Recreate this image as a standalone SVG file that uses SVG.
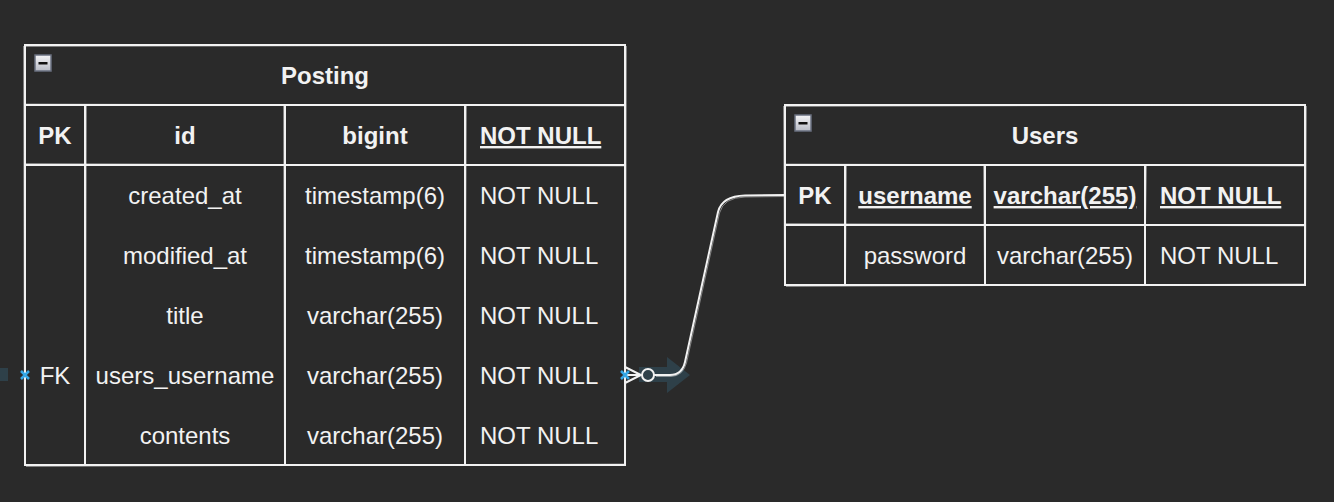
<svg xmlns="http://www.w3.org/2000/svg" width="1334" height="502" viewBox="0 0 1334 502">
<defs>
<linearGradient id="btn" x1="0" y1="0" x2="0" y2="1">
<stop offset="0" stop-color="#f4f4f6"/><stop offset="1" stop-color="#b8bcc6"/>
</linearGradient>
<style>
.bg{fill:#2a2a2a}
.box{fill:#2a2a2a;stroke:#f2f2f2;stroke-width:2}
.ln{stroke:#f2f2f2;stroke-width:2;fill:none}
.sk{stroke:#f2f2f2;stroke-width:1;fill:none;opacity:0.45}
text{font-family:"Liberation Sans",Arial,Helvetica,sans-serif;font-size:24px;fill:#f2f2f2}
.b{font-weight:bold}
.c{text-anchor:middle}
.u{text-decoration:underline}
.blue{stroke:#36a7e6;stroke-width:2.5;fill:none}
.hover{fill:#2f434d;opacity:0.9}
</style>
</defs>
<rect class="bg" x="0" y="0" width="1334" height="502"/>

<g id="posting">
<rect class="box" x="25" y="45" width="600" height="420"/>
<path class="sk" d="M26 46.5 L624 45.2 M24 104 L626 106 M26 163.5 L624 166 M23.5 46 L24.5 464 M626.5 46 L625.5 464"/>
<path class="ln" d="M25 105 H625 M25 165 H625 M85 105 V465 M285 105 V465 M465 105 V465"/>
<path class="sk" d="M86.5 106 L85.5 464 M283.5 106 L284.5 464 M466.5 106 L464.5 464 M26 466.5 L624 464"/>
<rect x="35" y="55" width="16" height="16" fill="url(#btn)" stroke="#6a7080" stroke-width="1.5"/>
<rect x="38.5" y="62" width="9" height="2.5" fill="#111"/>
<text class="b c" x="325" y="84">Posting</text>
<text class="b c" x="55" y="144">PK</text>
<text class="b c" x="185" y="144">id</text>
<text class="b c" x="375" y="144">bigint</text>
<text class="b u" x="480" y="144">NOT NULL</text>
<text class="c" x="185" y="204">created_at</text>
<text class="c" x="375" y="204">timestamp(6)</text>
<text x="480" y="204">NOT NULL</text>
<text class="c" x="185" y="264">modified_at</text>
<text class="c" x="375" y="264">timestamp(6)</text>
<text x="480" y="264">NOT NULL</text>
<text class="c" x="185" y="324">title</text>
<text class="c" x="375" y="324">varchar(255)</text>
<text x="480" y="324">NOT NULL</text>
<text class="c" x="55" y="384">FK</text>
<text class="c" x="185" y="384">users_username</text>
<text class="c" x="375" y="384">varchar(255)</text>
<text x="480" y="384">NOT NULL</text>
<text class="c" x="185" y="444">contents</text>
<text class="c" x="375" y="444">varchar(255)</text>
<text x="480" y="444">NOT NULL</text>
</g>

<g id="users">
<rect class="box" x="785" y="105" width="520" height="180"/>
<path class="sk" d="M786 106.5 L1304 104.8 M784 164 L1306 166 M786 223.5 L1304 226 M783.5 106 L784.5 284 M1306.5 106 L1305.5 284 M786 286.5 L1304 284"/>
<path class="ln" d="M785 165 H1305 M785 225 H1305 M845 165 V285 M985 165 V285 M1145 165 V285"/>
<path class="sk" d="M846.5 166 L845.5 284 M983.5 166 L984.5 284 M1146.5 166 L1144.5 284"/>
<rect x="795" y="115" width="16" height="16" fill="url(#btn)" stroke="#6a7080" stroke-width="1.5"/>
<rect x="798.5" y="122" width="9" height="2.5" fill="#111"/>
<text class="b c" x="1045" y="144">Users</text>
<text class="b c" x="815" y="204">PK</text>
<text class="b c u" x="915" y="204">username</text>
<text class="b c u" x="1065" y="204">varchar(255)</text>
<text class="b u" x="1160" y="204">NOT NULL</text>
<text class="c" x="915" y="264">password</text>
<text class="c" x="1065" y="264">varchar(255)</text>
<text x="1160" y="264">NOT NULL</text>
</g>

<g id="connectors">
<path class="hover" d="M639 367 H667 V357 L690 375 L667 393 V382 H639 Z"/>
<rect class="hover" x="0" y="368" width="8" height="13"/>
<path class="ln" d="M654 375 H670 Q682 375 685 362 L718 212 Q722 196 745 195.5 L785 195"/>
<path class="sk" d="M656 376.5 H671 Q683 376 686.5 363 L719.5 213 Q723.5 197.5 745 197 L784 196.5"/>
<path class="ln" d="M625 367 L641 375 L625 383 M625 375 H641"/>
<circle cx="648" cy="375" r="6" class="ln" stroke="#e6f0f6"/>
<path class="blue" d="M621 371 L629 379 M629 371 L621 379"/>
<path class="blue" d="M21 371 L29 379 M29 371 L21 379"/>
</g>
</svg>
